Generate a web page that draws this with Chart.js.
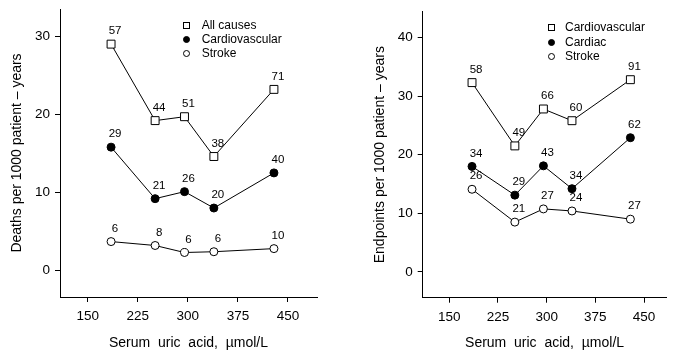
<!DOCTYPE html>
<html>
<head>
<meta charset="utf-8">
<script src="https://cdn.jsdelivr.net/npm/chart.js@4.4.1/dist/chart.umd.min.js"></script>
<style>
body { margin: 0; background: #fff; }
#wrap { position: relative; width: 673px; height: 362px; overflow: hidden; font-family: "Liberation Sans", Arial, sans-serif; }
.panel { position: absolute; top: 0; }
.legend { position: absolute; font-size: 12px; color: #000; }
.legend .row { position: relative; white-space: nowrap; }
.legend .mk { position: absolute; left: 0; width: 7px; height: 7px; box-sizing: border-box; border: 1px solid #000; background: #fff; }
.legend .mk.circle { border-radius: 50%; }
.legend .mk.filled { background: #000; }
</style>
</head>
<body>
<div id="wrap">
    <canvas id="leftChart" class="panel" style="left:0" width="336" height="362"></canvas>
    <canvas id="rightChart" class="panel" style="left:336px" width="337" height="362"></canvas>
    <div id="leftLegend" class="legend" style="left:183px; top:18px;"></div>
    <div id="rightLegend" class="legend" style="left:548px; top:20px;"></div>
</div>
<script>
const FONT = '"Liberation Sans", Arial, sans-serif';

// uric acid group positions (µmol/L)
const uricAcid = [185, 251, 295, 339, 429];
const xTicks = [150, 225, 300, 375, 450];

// left panel: deaths per 1000 patient-years
const allCauses = [29.0, 19.2, 19.7, 14.6, 23.2];
const allCausesN = [57, 44, 51, 38, 71];
const cvDeaths = [15.8, 9.2, 10.1, 8.0, 12.5];
const cvDeathsN = [29, 21, 26, 20, 40];
const strokeDeaths = [3.7, 3.2, 2.3, 2.4, 2.8];
const strokeDeathsN = [6, 8, 6, 6, 10];
const leftYTicks = [0, 10, 20, 30];

// right panel: endpoints per 1000 patient-years
const cvEndpoints = [32.3, 21.5, 27.8, 25.8, 32.8];
const cvEndpointsN = [58, 49, 66, 60, 91];
const cardiacEndpoints = [18.0, 13.1, 18.1, 14.2, 22.9];
const cardiacEndpointsN = [34, 29, 43, 34, 62];
const strokeEndpoints = [14.1, 8.5, 10.75, 10.4, 9.0];
const strokeEndpointsN = [26, 21, 27, 24, 27];
const rightYTicks = [0, 10, 20, 30, 40];

function series(label, values, counts, kind) {
    return {
        label: label,
        data: values.map((v, i) => ({ x: uricAcid[i], y: v })),
        counts: counts,
        kind: kind,
        showLine: true,
        borderColor: "#000",
        borderWidth: 1,
        tension: 0,
        pointStyle: kind === "square" ? "rect" : "circle",
        pointRadius: kind === "square" ? 5.6 : 4,
        pointBorderColor: "#000",
        pointBorderWidth: 1,
        pointBackgroundColor: kind === "filled" ? "#000" : "#fff"
    };
}

const countLabels = {
    id: "countLabels",
    afterDatasetsDraw(chart) {
        const ctx = chart.ctx;
        ctx.save();
        ctx.font = "11.5px " + FONT;
        ctx.fillStyle = "#000";
        ctx.textAlign = "center";
        ctx.textBaseline = "middle";
        chart.data.datasets.forEach((ds, i) => {
            chart.getDatasetMeta(i).data.forEach((pt, j) => {
                ctx.fillText(String(ds.counts[j]), pt.x + 4, pt.y - 13);
            });
        });
        ctx.restore();
    }
};

function makeChart(id, datasets, p) {
    return new Chart(document.getElementById(id).getContext("2d"), {
        type: "scatter",
        data: { datasets: datasets },
        plugins: [countLabels],
        options: {
            responsive: false,
            animation: false,
            layout: { padding: { top: p.top, right: p.right, left: 0, bottom: 0 } },
            plugins: { legend: { display: false }, tooltip: { enabled: false } },
            scales: {
                x: {
                    type: "linear",
                    min: p.xMin,
                    max: p.xMax,
                    afterBuildTicks: s => { s.ticks = xTicks.map(v => ({ value: v })); },
                    afterFit: s => { s.height = p.xHeight; s.paddingLeft = 0; s.paddingRight = 0; },
                    grid: { display: true, drawOnChartArea: false, drawTicks: true, tickLength: 5, color: "#000" },
                    border: { display: true, color: "#000" },
                    ticks: { color: "#000", font: { size: 13.5, family: FONT }, padding: 6, autoSkip: false, maxRotation: 0 },
                    title: {
                        display: true,
                        text: "Serum  uric  acid,  µmol/L",
                        color: "#000",
                        font: { size: 14, family: FONT },
                        padding: { top: 0, bottom: 10 }
                    }
                },
                y: {
                    type: "linear",
                    min: p.yMin,
                    max: p.yMax,
                    afterBuildTicks: s => { s.ticks = p.yTicks.map(v => ({ value: v })); },
                    afterFit: s => { s.width = p.yWidth; s.paddingTop = 0; s.paddingBottom = 0; },
                    grid: { display: true, drawOnChartArea: false, drawTicks: true, tickLength: 5, color: "#000" },
                    border: { display: true, color: "#000" },
                    ticks: { color: "#000", font: { size: 13.5, family: FONT }, padding: 5 },
                    title: {
                        display: true,
                        text: p.yTitle,
                        color: "#000",
                        font: { size: 14, family: FONT },
                        padding: { top: p.yTitlePad, bottom: 0 }
                    }
                }
            }
        }
    });
}

const leftChart = makeChart("leftChart", [
    series("All causes", allCauses, allCausesN, "square"),
    series("Cardiovascular", cvDeaths, cvDeathsN, "filled"),
    series("Stroke", strokeDeaths, strokeDeathsN, "open")
], {
    top: 9, right: 19, yWidth: 60, xHeight: 65,
    xMin: 108.5, xMax: 493.5, yMin: -3.4, yMax: 33.5,
    yTicks: leftYTicks, yTitle: "Deaths per 1000 patient – years", yTitlePad: 8.6
});

const rightChart = makeChart("rightChart", [
    series("Cardiovascular", cvEndpoints, cvEndpointsN, "square"),
    series("Cardiac", cardiacEndpoints, cardiacEndpointsN, "filled"),
    series("Stroke", strokeEndpoints, strokeEndpointsN, "open")
], {
    top: 11.7, right: 0, yWidth: 86.7, xHeight: 64.3,
    xMin: 109, xMax: 484.5, yMin: -4.4, yMax: 44.4,
    yTicks: rightYTicks, yTitle: "Endpoints per 1000 patient – years", yTitlePad: 35.6
});

function buildLegend(chart, elId, rowHeight, textLeft) {
    const el = document.getElementById(elId);
    chart.data.datasets.forEach(ds => {
        const row = document.createElement("div");
        row.className = "row";
        row.style.height = rowHeight + "px";
        row.style.lineHeight = rowHeight + "px";
        row.style.paddingLeft = textLeft + "px";
        const mk = document.createElement("span");
        mk.className = "mk" + (ds.kind === "square" ? "" : " circle") + (ds.kind === "filled" ? " filled" : "");
        mk.style.top = ((rowHeight - 7) / 2) + "px";
        row.appendChild(mk);
        row.appendChild(document.createTextNode(ds.label));
        el.appendChild(row);
    });
}

buildLegend(leftChart, "leftLegend", 14.2, 18.7);
buildLegend(rightChart, "rightLegend", 14.7, 17);
</script>
</body>
</html>
